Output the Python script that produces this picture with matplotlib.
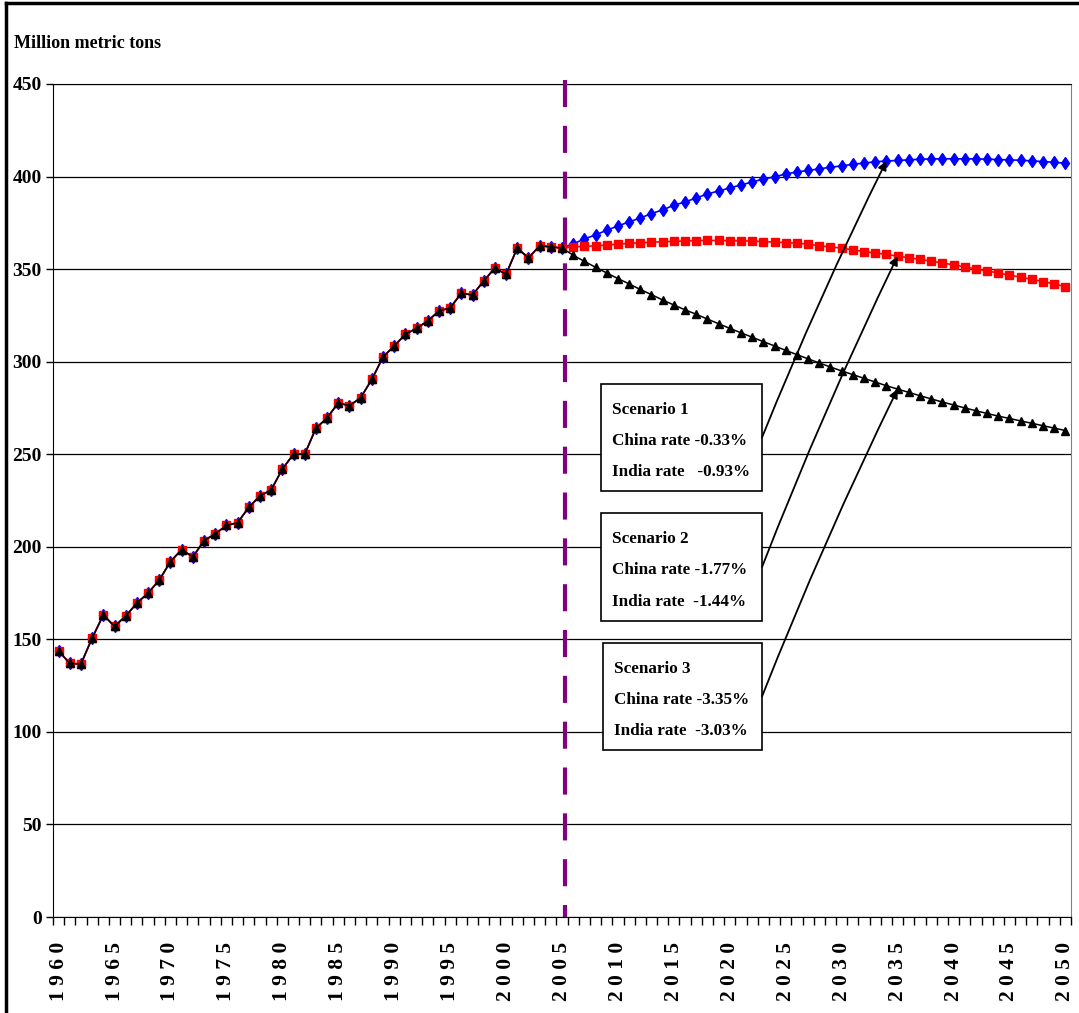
import matplotlib
matplotlib.use("Agg")
import matplotlib.pyplot as plt
from matplotlib.patches import Rectangle
from matplotlib.lines import Line2D
import numpy as np

plt.rcParams['font.family'] = ['Liberation Serif', 'DejaVu Serif']
plt.rcParams['font.weight'] = 'bold'

years = list(range(1960, 2051))

# history 1960-2005 (shared by all three scenarios)
hist = [143.7, 137, 136.7, 150.7, 163.2, 157, 162.6, 169.6, 175, 182,
        192, 198.5, 194.5, 203.3, 207, 211.5, 213, 221.3, 227.5, 230.7,
        242, 250, 250, 264, 269.6, 277.7, 276.2, 280.5, 290.4, 302.5,
        308.5, 314.8, 318, 322, 327.4, 329, 337, 336, 343.6, 350.6,
        347.2, 361.4, 356, 362.6, 362, 361.4]

# projections 2006-2050
scen1 = [363.6, 366.3, 368.5, 371, 373.3, 375.5, 377.6, 380, 382, 384.5,
         386.3, 388.4, 390.6, 392.2, 393.8, 395.5, 397, 398.7, 399.8, 401.4,
         402.5, 403.3, 404.2, 405, 405.8, 406.6, 407.3, 408, 408.4, 408.7,
         409, 409.4, 409.5, 409.6, 409.6, 409.6, 409.5, 409.4, 409.2, 409,
         408.8, 408.5, 408.1, 407.7, 407.2]
scen2 = [362, 362.3, 362.6, 363, 363.5, 363.9, 364.2, 364.5, 364.8, 365,
         365.2, 365.4, 365.5, 365.5, 365.4, 365.3, 365.1, 364.9, 364.6, 364.3,
         364, 363.5, 362.6, 362, 361.3, 360.4, 359.5, 358.7, 357.9, 357,
         356.2, 355.2, 354.3, 353.3, 352.3, 351.2, 350.1, 349, 347.9, 346.8,
         345.6, 344.5, 343.3, 342, 340.5]
scen3 = [357.5, 354.2, 351, 347.9, 344.9, 342, 339, 336.2, 333.3, 330.6,
         328, 325.6, 323, 320.5, 318, 315.6, 313.2, 310.8, 308.5, 306.1,
         303.8, 301.5, 299.3, 297.1, 295, 293, 291, 289, 287, 285.2,
         283.4, 281.6, 279.9, 278.2, 276.6, 275, 273.5, 272, 270.6, 269.3,
         268, 266.7, 265.4, 264.1, 262.8]

s1 = hist + scen1
s2 = hist + scen2
s3 = hist + scen3

box_lines = [["Scenario 1", "China rate -0.33%", "India rate   -0.93%"],
             ["Scenario 2", "China rate -1.77%", "India rate  -1.44%"],
             ["Scenario 3", "China rate -3.35%", "India rate  -3.03%"]]
arrow_years = [2034, 2035, 2035]

fig = plt.figure(figsize=(10.79, 10.13), dpi=100)
ax = fig.add_axes([53/1079, 1-917/1013, 1018/1079, 833/1013])

ax.plot(years, s1, color='blue', lw=1.2, marker='d', ms=6,
        mfc='blue', mec='blue', zorder=3)
ax.plot(years, s2, color='red', lw=1.2, marker='s', ms=5.5,
        mfc='red', mec='red', zorder=4)
ax.plot(years, s3, color='black', lw=1.1, marker='^', ms=6,
        mfc='black', mec='black', zorder=5)

# dashed divider, pattern starting from the top
ax.plot([2005.3, 2005.3], [452, 0], color='#800080', lw=3, dashes=(6.5, 4.5),
        solid_capstyle='butt', dash_capstyle='butt', clip_on=False, zorder=6)

ax.set_xlim(1959.5, 2050.5)
ax.set_ylim(0, 450)
ax.set_yticks(np.arange(0, 451, 50))
ax.yaxis.grid(True, color='black', lw=0.9)
ax.set_axisbelow(True)

xt = list(range(1960, 2051, 5))
ax.set_xticks(xt)
ax.set_xticklabels([' '.join(str(y)) for y in xt], rotation=90,
                   fontsize=15.5, fontweight='bold')
ax.set_xticks(np.arange(1959.5, 2051, 1), minor=True)
ax.tick_params(axis='x', which='major', length=0, pad=18)
ax.tick_params(axis='x', which='minor', length=6, direction='out', width=1)
ax.tick_params(axis='y', length=5, direction='out', width=1, labelsize=14, pad=3)
for lab in ax.get_yticklabels():
    lab.set_fontweight('bold')

for side in ['left', 'bottom', 'top']:
    ax.spines[side].set_color('black')
ax.spines['right'].set_color('#808080')

fig.text(14/1079, 1-44/1013, "Million metric tons", fontsize=13,
         fontweight='bold', va='center', ha='left')

# scenario boxes
boxes = [(0.538, 0.5114, 0.640), (0.538, 0.3553, 0.485), (0.540, 0.2005, 0.329)]
series = [s1, s2, s3]
for (bx, by0, by1), lines, yr, s in zip(boxes, box_lines, arrow_years, series):
    ax.add_patch(Rectangle((bx, by0), 0.6965 - bx, by1 - by0,
                           transform=ax.transAxes, fc='white', ec='black',
                           lw=1.2, zorder=7))
    h = by1 - by0
    for k, t in enumerate(lines):
        ax.text(bx + 0.011, by1 - h * (0.24 + 0.29 * k), t, transform=ax.transAxes,
                fontsize=12.3, fontweight='bold', va='center', ha='left', zorder=8)
    ax.annotate('', xy=(yr, s[years.index(yr)]), xycoords='data',
                xytext=(0.6965, by0 + h * 0.5), textcoords='axes fraction',
                arrowprops=dict(arrowstyle='-|>', color='black', lw=1.3,
                                mutation_scale=13, shrinkA=0, shrinkB=0,
                                connectionstyle='arc3,rad=-0.02'),
                zorder=9)

# outer frame (left and top edges visible)
fig.add_artist(Line2D([6/1079, 6/1079], [0, 1-3/1013], color='black', lw=2.5,
                      transform=fig.transFigure))
fig.add_artist(Line2D([6/1079, 1], [1-3/1013, 1-3/1013], color='black', lw=2.5,
                      transform=fig.transFigure))

fig.savefig('out.png', dpi=100)
